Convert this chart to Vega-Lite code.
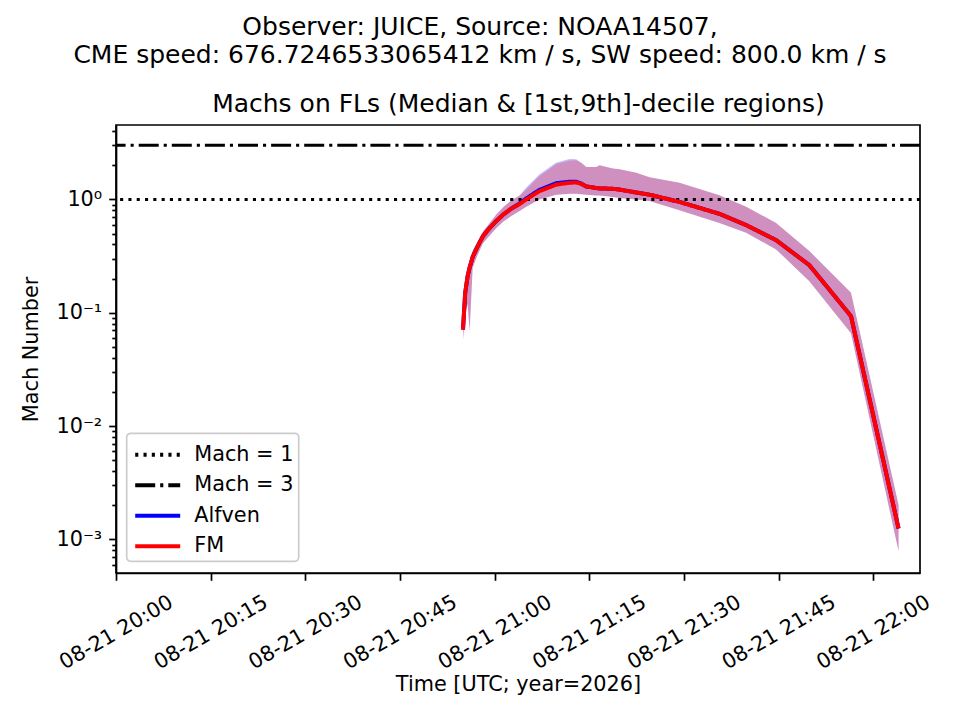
{
  "$schema": "https://vega.github.io/schema/vega-lite/v6.json",
  "padding": {"left": 20, "top": 15, "right": 10, "bottom": 10},
  "background": "white",
  "width": 804,
  "height": 448,
  "title": {
    "text": ["Observer: JUICE, Source: NOAA14507,", "CME speed: 676.7246533065412 km / s, SW speed: 800.0 km / s"],
    "font": "DejaVu Sans", "fontSize": 25, "fontWeight": "normal", "color": "black",
    "anchor": "middle", "frame": "group", "lineHeight": 28, "offset": 23, "dx": -38
  },
  "datasets": {
    "fl": [
      {"t": "2026-08-21T20:54:59Z", "series": "Alfven", "med": 0.071, "lo": 0.058, "hi": 0.078},
      {"t": "2026-08-21T20:55:20Z", "series": "Alfven", "med": 0.15, "lo": 0.10, "hi": 0.165},
      {"t": "2026-08-21T20:55:43Z", "series": "Alfven", "med": 0.21, "lo": 0.12, "hi": 0.23},
      {"t": "2026-08-21T20:56:02Z", "series": "Alfven", "med": 0.25, "lo": 0.069, "hi": 0.28},
      {"t": "2026-08-21T20:56:31Z", "series": "Alfven", "med": 0.31, "lo": 0.25, "hi": 0.35},
      {"t": "2026-08-21T20:57:09Z", "series": "Alfven", "med": 0.37, "lo": 0.31, "hi": 0.41},
      {"t": "2026-08-21T20:58:09Z", "series": "Alfven", "med": 0.474, "lo": 0.41, "hi": 0.52},
      {"t": "2026-08-21T20:59:13Z", "series": "Alfven", "med": 0.56, "lo": 0.48, "hi": 0.62},
      {"t": "2026-08-21T21:00:16Z", "series": "Alfven", "med": 0.644, "lo": 0.56, "hi": 0.737},
      {"t": "2026-08-21T21:01:26Z", "series": "Alfven", "med": 0.74, "lo": 0.64, "hi": 0.86},
      {"t": "2026-08-21T21:02:39Z", "series": "Alfven", "med": 0.83, "lo": 0.713, "hi": 0.98},
      {"t": "2026-08-21T21:03:57Z", "series": "Alfven", "med": 0.92, "lo": 0.79, "hi": 1.09},
      {"t": "2026-08-21T21:05:01Z", "series": "Alfven", "med": 1.02, "lo": 0.86, "hi": 1.27},
      {"t": "2026-08-21T21:07:04Z", "series": "Alfven", "med": 1.21, "lo": 1.0, "hi": 1.66},
      {"t": "2026-08-21T21:09:46Z", "series": "Alfven", "med": 1.39, "lo": 1.1, "hi": 2.12},
      {"t": "2026-08-21T21:11:52Z", "series": "Alfven", "med": 1.43, "lo": 1.12, "hi": 2.27},
      {"t": "2026-08-21T21:12:56Z", "series": "Alfven", "med": 1.43, "lo": 1.12, "hi": 2.26},
      {"t": "2026-08-21T21:13:43Z", "series": "Alfven", "med": 1.38, "lo": 1.11, "hi": 2.1},
      {"t": "2026-08-21T21:14:31Z", "series": "Alfven", "med": 1.30, "lo": 1.10, "hi": 1.93},
      {"t": "2026-08-21T21:16:06Z", "series": "Alfven", "med": 1.26, "lo": 1.08, "hi": 1.93},
      {"t": "2026-08-21T21:16:37Z", "series": "Alfven", "med": 1.25, "lo": 1.08, "hi": 2.0},
      {"t": "2026-08-21T21:18:44Z", "series": "Alfven", "med": 1.24, "lo": 1.05, "hi": 1.87},
      {"t": "2026-08-21T21:19:47Z", "series": "Alfven", "med": 1.22, "lo": 1.03, "hi": 1.84},
      {"t": "2026-08-21T21:22:26Z", "series": "Alfven", "med": 1.15, "lo": 1.0, "hi": 1.72},
      {"t": "2026-08-21T21:24:32Z", "series": "Alfven", "med": 1.10, "lo": 0.97, "hi": 1.57},
      {"t": "2026-08-21T21:29:17Z", "series": "Alfven", "med": 0.95, "lo": 0.80, "hi": 1.40},
      {"t": "2026-08-21T21:35:37Z", "series": "Alfven", "med": 0.746, "lo": 0.62, "hi": 1.09},
      {"t": "2026-08-21T21:39:51Z", "series": "Alfven", "med": 0.593, "lo": 0.507, "hi": 0.86},
      {"t": "2026-08-21T21:44:36Z", "series": "Alfven", "med": 0.437, "lo": 0.362, "hi": 0.62},
      {"t": "2026-08-21T21:49:52Z", "series": "Alfven", "med": 0.263, "lo": 0.19, "hi": 0.35},
      {"t": "2026-08-21T21:56:28Z", "series": "Alfven", "med": 0.0933, "lo": 0.066, "hi": 0.15},
      {"t": "2026-08-21T22:04:00Z", "series": "Alfven", "med": 0.00125, "lo": 0.00079, "hi": 0.00201},
      {"t": "2026-08-21T20:54:59Z", "series": "FM", "med": 0.071, "lo": 0.058, "hi": 0.078},
      {"t": "2026-08-21T20:55:20Z", "series": "FM", "med": 0.15, "lo": 0.10, "hi": 0.165},
      {"t": "2026-08-21T20:55:43Z", "series": "FM", "med": 0.21, "lo": 0.12, "hi": 0.23},
      {"t": "2026-08-21T20:56:02Z", "series": "FM", "med": 0.25, "lo": 0.069, "hi": 0.28},
      {"t": "2026-08-21T20:56:31Z", "series": "FM", "med": 0.31, "lo": 0.25, "hi": 0.35},
      {"t": "2026-08-21T20:57:09Z", "series": "FM", "med": 0.37, "lo": 0.31, "hi": 0.41},
      {"t": "2026-08-21T20:58:09Z", "series": "FM", "med": 0.474, "lo": 0.41, "hi": 0.52},
      {"t": "2026-08-21T20:59:13Z", "series": "FM", "med": 0.56, "lo": 0.48, "hi": 0.62},
      {"t": "2026-08-21T21:00:16Z", "series": "FM", "med": 0.644, "lo": 0.56, "hi": 0.737},
      {"t": "2026-08-21T21:01:26Z", "series": "FM", "med": 0.74, "lo": 0.64, "hi": 0.86},
      {"t": "2026-08-21T21:02:39Z", "series": "FM", "med": 0.83, "lo": 0.713, "hi": 0.98},
      {"t": "2026-08-21T21:03:57Z", "series": "FM", "med": 0.91, "lo": 0.79, "hi": 1.07},
      {"t": "2026-08-21T21:05:01Z", "series": "FM", "med": 1.0, "lo": 0.86, "hi": 1.23},
      {"t": "2026-08-21T21:07:04Z", "series": "FM", "med": 1.18, "lo": 1.0, "hi": 1.6},
      {"t": "2026-08-21T21:09:46Z", "series": "FM", "med": 1.35, "lo": 1.1, "hi": 2.05},
      {"t": "2026-08-21T21:11:52Z", "series": "FM", "med": 1.40, "lo": 1.12, "hi": 2.2},
      {"t": "2026-08-21T21:12:56Z", "series": "FM", "med": 1.41, "lo": 1.12, "hi": 2.21},
      {"t": "2026-08-21T21:13:43Z", "series": "FM", "med": 1.37, "lo": 1.11, "hi": 2.1},
      {"t": "2026-08-21T21:14:31Z", "series": "FM", "med": 1.30, "lo": 1.10, "hi": 1.93},
      {"t": "2026-08-21T21:16:06Z", "series": "FM", "med": 1.26, "lo": 1.08, "hi": 1.93},
      {"t": "2026-08-21T21:16:37Z", "series": "FM", "med": 1.25, "lo": 1.08, "hi": 2.0},
      {"t": "2026-08-21T21:18:44Z", "series": "FM", "med": 1.24, "lo": 1.05, "hi": 1.87},
      {"t": "2026-08-21T21:19:47Z", "series": "FM", "med": 1.22, "lo": 1.03, "hi": 1.84},
      {"t": "2026-08-21T21:22:26Z", "series": "FM", "med": 1.15, "lo": 1.0, "hi": 1.72},
      {"t": "2026-08-21T21:24:32Z", "series": "FM", "med": 1.10, "lo": 0.97, "hi": 1.57},
      {"t": "2026-08-21T21:29:17Z", "series": "FM", "med": 0.95, "lo": 0.80, "hi": 1.40},
      {"t": "2026-08-21T21:35:37Z", "series": "FM", "med": 0.746, "lo": 0.62, "hi": 1.09},
      {"t": "2026-08-21T21:39:51Z", "series": "FM", "med": 0.593, "lo": 0.507, "hi": 0.86},
      {"t": "2026-08-21T21:44:36Z", "series": "FM", "med": 0.437, "lo": 0.362, "hi": 0.62},
      {"t": "2026-08-21T21:49:52Z", "series": "FM", "med": 0.263, "lo": 0.19, "hi": 0.35},
      {"t": "2026-08-21T21:56:28Z", "series": "FM", "med": 0.0933, "lo": 0.066, "hi": 0.15},
      {"t": "2026-08-21T22:04:00Z", "series": "FM", "med": 0.00125, "lo": 0.00079, "hi": 0.00201}
    ],
    "mach": [
      {"label": "Mach = 1", "value": 1},
      {"label": "Mach = 3", "value": 3}
    ]
  },
  "layer": [
    {
      "data": {"name": "fl"},
      "mark": {"type": "area", "opacity": 0.25, "interpolate": "linear"},
      "encoding": {
        "x": {
          "field": "t", "type": "temporal",
          "scale": {"type": "utc", "domain": ["2026-08-21T20:00:00Z", "2026-08-21T22:07:24Z"], "nice": false},
          "axis": {
            "title": "Time [UTC; year=2026]",
            "format": "%m-%d %H:%M",
            "values": [
              {"year": 2026, "month": 8, "date": 21, "hours": 20, "minutes": 0, "utc": true},
              {"year": 2026, "month": 8, "date": 21, "hours": 20, "minutes": 15, "utc": true},
              {"year": 2026, "month": 8, "date": 21, "hours": 20, "minutes": 30, "utc": true},
              {"year": 2026, "month": 8, "date": 21, "hours": 20, "minutes": 45, "utc": true},
              {"year": 2026, "month": 8, "date": 21, "hours": 21, "minutes": 0, "utc": true},
              {"year": 2026, "month": 8, "date": 21, "hours": 21, "minutes": 15, "utc": true},
              {"year": 2026, "month": 8, "date": 21, "hours": 21, "minutes": 30, "utc": true},
              {"year": 2026, "month": 8, "date": 21, "hours": 21, "minutes": 45, "utc": true},
              {"year": 2026, "month": 8, "date": 21, "hours": 22, "minutes": 0, "utc": true}
            ],
            "labelAngle": -30, "labelAlign": "center", "labelBaseline": "middle",
            "labelPadding": 52, "labelFlush": false, "labelOverlap": false,
            "titlePadding": 2
          }
        },
        "y": {
          "field": "lo", "type": "quantitative",
          "axis": {
            "orient": "left",
            "values": [0.0006, 0.0007, 0.0008, 0.0009, 0.002, 0.003, 0.004, 0.005, 0.006, 0.007, 0.008, 0.009, 0.02, 0.03, 0.04, 0.05, 0.06, 0.07, 0.08, 0.09, 0.2, 0.3, 0.4, 0.5, 0.6, 0.7, 0.8, 0.9, 2, 3, 4],
            "labels": false, "domain": false, "title": null, "tickSize": 4.2
          }
        },
        "y2": {"field": "hi"},
        "fill": {"condition": {"test": "datum.series == 'Alfven'", "value": "blue"}, "value": "red"},
        "detail": {"field": "series"}
      }
    },
    {
      "data": {"name": "mach"},
      "mark": {"type": "rule", "strokeWidth": 3},
      "encoding": {
        "y": {"field": "value", "type": "quantitative", "axis": null},
        "color": {"field": "label", "type": "nominal", "legend": {"title": null}},
        "strokeDash": {"field": "label", "type": "nominal", "legend": {"title": null}}
      }
    },
    {
      "data": {"name": "fl"},
      "transform": [{"filter": "datum.series == 'Alfven'"}],
      "mark": {"type": "line", "strokeWidth": 4},
      "encoding": {
        "x": {"field": "t", "type": "temporal", "axis": null},
        "y": {"field": "med", "type": "quantitative", "axis": null},
        "color": {"field": "series", "type": "nominal", "legend": {"title": null}},
        "strokeDash": {"field": "series", "type": "nominal", "legend": {"title": null}}
      }
    },
    {
      "data": {"name": "fl"},
      "transform": [{"filter": "datum.series == 'FM'"}],
      "mark": {"type": "line", "strokeWidth": 4},
      "encoding": {
        "x": {
          "field": "t", "type": "temporal",
          "axis": {
            "orient": "top", "title": "Machs on FLs (Median & [1st,9th]-decile regions)",
            "labels": false, "ticks": false, "domain": false,
            "titleFontSize": 25, "titlePadding": 9
          }
        },
        "y": {
          "field": "med", "type": "quantitative",
          "scale": {"type": "log", "domain": [0.000506, 4.53], "nice": false},
          "axis": {
            "orient": "left",
            "title": "Mach Number",
            "values": [0.001, 0.01, 0.1, 1],
            "labelExpr": "datum.value == 1 ? '10⁰' : datum.value == 0.1 ? '10⁻¹' : datum.value == 0.01 ? '10⁻²' : '10⁻³'",
            "labelOverlap": false,
            "titlePadding": 14
          }
        },
        "color": {
          "field": "series", "type": "nominal",
          "scale": {"domain": ["Mach = 1", "Mach = 3", "Alfven", "FM"], "range": ["black", "black", "blue", "red"]},
          "legend": {"title": null}
        },
        "strokeDash": {
          "field": "series", "type": "nominal",
          "scale": {"domain": ["Mach = 1", "Mach = 3", "Alfven", "FM"], "range": [[3.1, 5.2], [20, 5, 3.1, 5], [1, 0], [1, 0]]},
          "legend": {"title": null}
        }
      }
    }
  ],
  "resolve": {"axis": {"x": "independent", "y": "independent"}},
  "config": {
    "font": "DejaVu Sans",
    "view": {"stroke": "black", "strokeWidth": 1.7},
    "axis": {
      "grid": false,
      "domainColor": "black", "domainWidth": 1.7,
      "tickColor": "black", "tickWidth": 1.7, "tickSize": 7.3,
      "labelFont": "DejaVu Sans", "labelFontSize": 20.8, "labelColor": "black",
      "labelPadding": 7,
      "titleFont": "DejaVu Sans", "titleFontSize": 20.8, "titleFontWeight": "normal", "titleColor": "black"
    },
    "legend": {
      "orient": "none", "legendX": 10.7, "legendY": 308.3,
      "symbolType": "M-1.5,0H1.5", "symbolSize": 900, "symbolStrokeWidth": 4, "symbolOffset": 9.5,
      "labelFont": "DejaVu Sans", "labelFontSize": 20.8, "labelColor": "black",
      "labelOffset": 19.5, "rowPadding": 3.5, "padding": 4.5,
      "strokeColor": "#cccccc", "strokeWidth": 1.7, "cornerRadius": 4, "fillColor": "white"
    }
  }
}
